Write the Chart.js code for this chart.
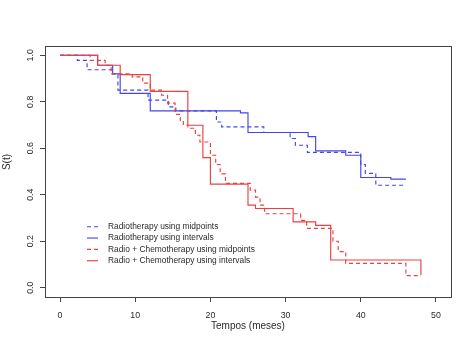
<!DOCTYPE html>
<html>
<head>
<meta charset="utf-8">
<script src="https://cdn.jsdelivr.net/npm/chart.js@4"></script>
<style>
  html, body { margin: 0; padding: 0; background: #fff; }
  #wrap { width: 474px; height: 344px; }
</style>
</head>
<body>
<div id="wrap"><canvas id="survChart" width="474" height="344"></canvas></div>
<script>
// Kaplan-Meier style curves (time in months, survival S(t))
const radioMidTimes = [0, 2.3, 3.6, 6.9, 7.7, 11.7, 14.4, 15.4, 20.8, 21.5, 27.1, 30.6, 31.3, 32.9, 40, 40.6, 42, 46];
const radioMidSurv  = [1, 0.978, 0.938, 0.921, 0.85, 0.807, 0.778, 0.761, 0.713, 0.692, 0.668, 0.642, 0.613, 0.582, 0.53, 0.492, 0.441, 0.441];

const radioIntTimes = [0, 5, 7, 8, 12, 24, 25, 33, 34, 38, 40, 44, 46];
const radioIntSurv  = [1, 0.957, 0.92, 0.836, 0.761, 0.752, 0.668, 0.65, 0.589, 0.57, 0.474, 0.467, 0.467];

const chemoMidTimes = [0, 4, 6, 6.8, 9.6, 11, 12, 13.5, 14.3, 15.3, 16, 16.4, 17, 18, 18.6, 20, 20.7, 21.3, 22, 25.3, 26, 26.6, 27.2, 32, 32.8, 36.3, 37, 38, 46, 48];
const chemoMidSurv  = [1, 0.978, 0.957, 0.92, 0.907, 0.88, 0.85, 0.828, 0.794, 0.746, 0.72, 0.70, 0.686, 0.656, 0.627, 0.57, 0.53, 0.49, 0.449, 0.42, 0.39, 0.355, 0.318, 0.29, 0.255, 0.2, 0.155, 0.105, 0.052, 0.052];

const chemoIntTimes = [0, 5, 8, 12, 17, 19, 20, 25, 26, 31, 34, 36, 48];
const chemoIntSurv  = [1, 0.957, 0.917, 0.845, 0.699, 0.56, 0.446, 0.355, 0.341, 0.283, 0.268, 0.119, 0.055];

const seriesLabels = [
  'Radiotherapy using midpoints',
  'Radiotherapy using intervals',
  'Radio + Chemotherapy using midpoints',
  'Radio + Chemotherapy using intervals'
];

const xTicks = [0, 10, 20, 30, 40, 50];
const yTicks = [0, 0.2, 0.4, 0.6, 0.8, 1.0];

const BLUE = 'rgb(70,70,232)';
const RED = 'rgb(236,64,64)';
const DASH = [4, 3];
const LW = 1.15;
const FONT = '"Liberation Sans", Arial, Helvetica, sans-serif';

function toPoints(ts, ss) {
  return ts.map((t, i) => ({ x: t, y: ss[i] }));
}

function makeSet(label, ts, ss, color, dashed, order) {
  return {
    label: label,
    data: toPoints(ts, ss),
    borderColor: color,
    borderWidth: LW,
    borderDash: dashed ? DASH : [],
    stepped: 'before',
    pointRadius: 0,
    fill: false,
    order: order
  };
}

// box around the plot region
const boxPlugin = {
  id: 'boxPlugin',
  afterDraw(chart) {
    const { ctx, chartArea: a } = chart;
    ctx.save();
    ctx.strokeStyle = '#444';
    ctx.lineWidth = 1;
    ctx.strokeRect(Math.round(a.left) + 0.5, Math.round(a.top) + 0.5,
      Math.round(a.right - a.left), Math.round(a.bottom - a.top));
    ctx.restore();
  }
};

// axis titles
const titlesPlugin = {
  id: 'titlesPlugin',
  afterDraw(chart) {
    const { ctx, chartArea: a } = chart;
    ctx.save();
    ctx.fillStyle = '#2a2a2a';
    ctx.font = '10px ' + FONT;
    ctx.textAlign = 'center';
    ctx.textBaseline = 'middle';
    ctx.fillText('Tempos (meses)', (a.left + a.right) / 2, 326.5);
    ctx.translate(7, 162);
    ctx.rotate(-Math.PI / 2);
    ctx.fillText('S(t)', 0, 0);
    ctx.restore();
  }
};

// legend drawn inside the plot, lower left
const legendPlugin = {
  id: 'legendPlugin',
  afterDraw(chart) {
    const ctx = chart.ctx;
    const x0 = 87, x1 = 98, tx = 108;
    const y0 = 226.7, dy = 11.35;
    ctx.save();
    ctx.font = '8.4px ' + FONT;
    ctx.textBaseline = 'middle';
    ctx.textAlign = 'left';
    const styles = [[BLUE, true], [BLUE, false], [RED, true], [RED, false]];
    seriesLabels.forEach((lab, i) => {
      const y = y0 + i * dy;
      ctx.strokeStyle = styles[i][0];
      ctx.lineWidth = LW;
      ctx.setLineDash(styles[i][1] ? DASH : []);
      ctx.beginPath();
      ctx.moveTo(x0, y);
      ctx.lineTo(x1, y);
      ctx.stroke();
      ctx.fillStyle = '#2a2a2a';
      ctx.fillText(lab, tx, y);
    });
    ctx.restore();
  }
};

new Chart(document.getElementById('survChart'), {
  type: 'line',
  data: {
    datasets: [
      makeSet(seriesLabels[0], radioMidTimes, radioMidSurv, BLUE, true, 4),
      makeSet(seriesLabels[1], radioIntTimes, radioIntSurv, BLUE, false, 3),
      makeSet(seriesLabels[2], chemoMidTimes, chemoMidSurv, RED, true, 2),
      makeSet(seriesLabels[3], chemoIntTimes, chemoIntSurv, RED, false, 1)
    ]
  },
  options: {
    responsive: false,
    animation: false,
    events: [],
    layout: { padding: { left: 0, top: 46, right: 23, bottom: 0 } },
    plugins: {
      legend: { display: false },
      tooltip: { enabled: false }
    },
    scales: {
      x: {
        type: 'linear',
        min: -2,
        max: 52,
        afterFit(scale) { scale.height = 47; },
        afterBuildTicks(scale) { scale.ticks = xTicks.map(v => ({ value: v })); },
        border: { display: false },
        grid: { drawOnChartArea: false, drawTicks: true, tickLength: 5, color: '#444', lineWidth: 1 },
        ticks: {
          color: '#2a2a2a',
          font: { size: 8.8, family: FONT },
          padding: 8,
          maxRotation: 0,
          callback: v => String(v)
        }
      },
      y: {
        min: -0.04,
        max: 1.04,
        afterFit(scale) { scale.width = 45; },
        afterBuildTicks(scale) { scale.ticks = yTicks.map(v => ({ value: v })); },
        border: { display: false },
        grid: { drawOnChartArea: false, drawTicks: true, tickLength: 5, color: '#444', lineWidth: 1 },
        ticks: {
          color: '#2a2a2a',
          font: { size: 8.8, family: FONT },
          padding: 3,
          minRotation: 90,
          maxRotation: 90,
          crossAlign: 'center',
          callback: v => Number(v).toFixed(1)
        }
      }
    }
  },
  plugins: [boxPlugin, titlesPlugin, legendPlugin]
});
</script>
</body>
</html>
